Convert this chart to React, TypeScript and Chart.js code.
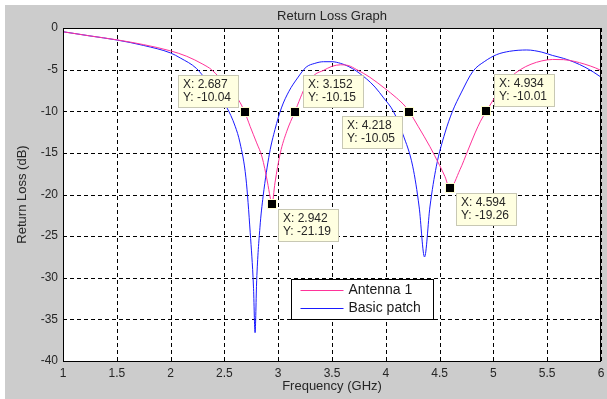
import React, { useEffect, useRef } from 'react';
import { Chart, registerables } from 'chart.js';

Chart.register(...registerables);

// ---- data ----
const antennaFreq = [1.0, 1.25, 1.5, 1.75, 2.0, 2.15, 2.3, 2.38, 2.45, 2.55, 2.63, 2.687, 2.74, 2.8, 2.85, 2.9, 2.925, 2.942, 2.97, 3.02, 3.08, 3.152, 3.26, 3.34, 3.42, 3.5, 3.58, 3.65, 3.73, 3.85, 3.99, 4.1, 4.18, 4.218, 4.3, 4.41, 4.5, 4.55, 4.594, 4.69, 4.76, 4.83, 4.88, 4.934, 5.0, 5.08, 5.16, 5.25, 5.35, 5.45, 5.55, 5.65, 5.75, 5.85, 5.95, 6.0];
const antennaLoss = [-0.45, -0.95, -1.42, -2.0, -2.75, -3.4, -4.35, -5.0, -5.9, -7.3, -8.6, -10.04, -11.85, -13.8, -15.5, -18.5, -20.3, -21.19, -18.6, -15.0, -12.4, -10.15, -6.85, -5.6, -5.1, -4.6, -4.42, -4.5, -5.0, -5.9, -7.25, -8.4, -9.4, -10.05, -11.8, -14.25, -16.5, -17.85, -19.26, -17.0, -14.8, -12.6, -11.2, -10.01, -8.6, -7.0, -5.9, -5.0, -4.35, -3.95, -3.78, -3.8, -4.0, -4.35, -4.8, -5.1];

const patchFreq = [1.0, 1.25, 1.5, 1.75, 2.0, 2.09, 2.24, 2.34, 2.43, 2.52, 2.6, 2.645, 2.7, 2.74, 2.77, 2.785, 2.8, 2.83, 2.86, 2.92, 2.97, 3.03, 3.1, 3.18, 3.26, 3.34, 3.42, 3.5, 3.58, 3.65, 3.73, 3.82, 3.9, 3.98, 4.07, 4.16, 4.25, 4.31, 4.36, 4.41, 4.47, 4.55, 4.62, 4.7, 4.81, 4.92, 5.03, 5.15, 5.31, 5.45, 5.55, 5.65, 5.75, 5.85, 5.93, 6.0];
const patchLoss = [-0.45, -0.95, -1.44, -2.1, -3.0, -3.6, -4.85, -6.4, -7.9, -9.5, -11.8, -13.8, -18.0, -24.6, -31.0, -36.6, -30.3, -24.0, -20.2, -15.0, -12.2, -9.6, -7.6, -6.0, -4.7, -4.25, -4.05, -4.05, -4.25, -4.6, -5.2, -6.1, -7.1, -8.4, -10.0, -12.8, -16.6, -21.5, -27.5, -21.5, -16.6, -12.6, -10.0, -7.8, -5.2, -4.0, -3.2, -2.8, -2.64, -2.9, -3.3, -3.64, -4.1, -4.7, -5.3, -5.9];

const seriesNames = ['Antenna 1', 'Basic patch'];

const tipFreq = [2.687, 3.152, 4.218, 4.934, 2.942, 4.594];
const tipLoss = [-10.04, -10.15, -10.05, -10.01, -21.19, -19.26];
const tipPlacement = ['tl', 'tr', 'bl', 'tr', 'br', 'br'];

const xTicks = [1, 1.5, 2, 2.5, 3, 3.5, 4, 4.5, 5, 5.5, 6];
const xTickLabels = ['1', '1.5', '2', '2.5', '3', '3.5', '4', '4.5', '5', '5.5', '6'];
const yTicks = [-40, -35, -30, -25, -20, -15, -10, -5, 0];
const yTickLabels = ['-40', '-35', '-30', '-25', '-20', '-15', '-10', '-5', '0'];

const titleText = 'Return Loss Graph';
const xTitle = 'Frequency (GHz)';
const yTitle = 'Return Loss (dB)';

const PINK = '#ff3399';
const BLUE = '#1a1aff';
const FONT = '"Liberation Sans", Arial, sans-serif';

const decorPlugin = {
  id: 'decor',
  beforeDraw(chart: any) {
    const { ctx, width, height, chartArea: ca } = chart;
    ctx.save();
    ctx.fillStyle = '#ffffff';
    ctx.fillRect(0, 0, width, height);
    ctx.fillStyle = '#cccccc';
    ctx.fillRect(5, 5, width - 5, height - 5);
    ctx.fillStyle = '#ffffff';
    ctx.fillRect(ca.left, ca.top, ca.right - ca.left, ca.bottom - ca.top);
    ctx.restore();
  },
  beforeDatasetsDraw(chart: any) {
    const { ctx, chartArea: ca, scales } = chart;
    ctx.save();
    ctx.strokeStyle = '#000000';
    ctx.lineWidth = 1;
    ctx.setLineDash([4, 3]);
    xTicks.forEach((v) => {
      const x = Math.round(scales.x.getPixelForValue(v)) + 0.5;
      ctx.beginPath();
      ctx.moveTo(x, ca.top);
      ctx.lineTo(x, ca.bottom);
      ctx.stroke();
    });
    yTicks.forEach((v) => {
      const y = Math.round(scales.y.getPixelForValue(v)) + 0.5;
      ctx.beginPath();
      ctx.moveTo(ca.left, y);
      ctx.lineTo(ca.right, y);
      ctx.stroke();
    });
    ctx.restore();
  },
  afterDatasetsDraw(chart: any) {
    const { ctx, chartArea: ca, scales } = chart;
    ctx.save();
    // frame
    ctx.strokeStyle = '#000000';
    ctx.lineWidth = 1;
    ctx.setLineDash([]);
    ctx.strokeRect(Math.round(ca.left) + 0.5, Math.round(ca.top) + 0.5, Math.round(ca.right - ca.left) - 1, Math.round(ca.bottom - ca.top));

    // titles
    ctx.fillStyle = '#262626';
    ctx.textAlign = 'center';
    ctx.textBaseline = 'middle';
    ctx.font = `13px ${FONT}`;
    ctx.fillText(titleText, (ca.left + ca.right) / 2, 16);
    ctx.fillText(xTitle, (ca.left + ca.right) / 2, 386);
    ctx.save();
    ctx.translate(22, (ca.top + ca.bottom) / 2);
    ctx.rotate(-Math.PI / 2);
    ctx.fillText(yTitle, 0, 0);
    ctx.restore();

    // data tips
    ctx.font = `12px ${FONT}`;
    tipFreq.forEach((fx, i) => {
      const px = scales.x.getPixelForValue(fx);
      const py = scales.y.getPixelForValue(tipLoss[i]);
      const l1 = `X: ${fx}`;
      const l2 = `Y: ${tipLoss[i]}`;
      const tw = Math.max(ctx.measureText(l1).width, ctx.measureText(l2).width);
      const bw = Math.round(tw + 13);
      const bh = 33;
      const pl = tipPlacement[i];
      let bx = 0;
      let by = 0;
      if (pl === 'tl') { bx = px - 6 - bw; by = py - 4 - bh; }
      if (pl === 'tr') { bx = px + 8; by = py - 4 - bh; }
      if (pl === 'bl') { bx = px - 6 - bw; by = py + 4; }
      if (pl === 'br') { bx = px + 6; by = py + 5; }
      bx = Math.round(bx);
      by = Math.round(by);
      ctx.fillStyle = '#ffffe1';
      ctx.fillRect(bx, by, bw, bh);
      ctx.strokeStyle = '#c8c8b4';
      ctx.strokeRect(bx + 0.5, by + 0.5, bw - 1, bh - 1);
      ctx.fillStyle = '#262626';
      ctx.textAlign = 'left';
      ctx.textBaseline = 'middle';
      ctx.fillText(l1, bx + 5, by + 10);
      ctx.fillText(l2, bx + 5, by + 23);
      // marker
      ctx.fillStyle = '#ffffd0';
      ctx.fillRect(Math.round(px) - 5, Math.round(py) - 5, 10, 10);
      ctx.fillStyle = '#000000';
      ctx.fillRect(Math.round(px) - 4, Math.round(py) - 4, 8, 8);
    });

    // legend
    const lx = Math.round(ca.left + 228) + 0.5;
    const ly = Math.round(ca.top + 251) + 0.5;
    ctx.fillStyle = '#ffffff';
    ctx.fillRect(lx, ly, 142, 40);
    ctx.strokeStyle = '#000000';
    ctx.strokeRect(lx, ly, 142, 40);
    const colors = [PINK, BLUE];
    ctx.font = `14px ${FONT}`;
    seriesNames.forEach((name, i) => {
      const yy = ly + 11 + i * 18;
      ctx.strokeStyle = colors[i];
      ctx.lineWidth = 1;
      ctx.beginPath();
      ctx.moveTo(lx + 9, yy);
      ctx.lineTo(lx + 52, yy);
      ctx.stroke();
      ctx.fillStyle = '#1a1a1a';
      ctx.textAlign = 'left';
      ctx.textBaseline = 'middle';
      ctx.fillText(name, lx + 57, yy);
    });
    ctx.restore();
  },
};

export default function App() {
  const ref = useRef<HTMLCanvasElement>(null);
  useEffect(() => {
    document.body.style.margin = '0';
    const canvas = ref.current;
    if (!canvas) return;
    const chart = new Chart(canvas, {
      type: 'line',
      data: {
        datasets: [
          {
            label: seriesNames[0],
            data: antennaFreq.map((x, i) => ({ x, y: antennaLoss[i] })),
            borderColor: PINK,
            borderWidth: 1,
            pointRadius: 0,
            fill: false,
            cubicInterpolationMode: 'monotone',
          },
          {
            label: seriesNames[1],
            data: patchFreq.map((x, i) => ({ x, y: patchLoss[i] })),
            borderColor: BLUE,
            borderWidth: 1,
            pointRadius: 0,
            fill: false,
            cubicInterpolationMode: 'monotone',
          },
        ],
      },
      options: {
        responsive: false,
        animation: false,
        devicePixelRatio: 1,
        layout: { padding: { top: 28, right: 6, left: 0, bottom: 0 } },
        plugins: {
          legend: { display: false },
          tooltip: { enabled: false },
          title: { display: false },
        },
        events: [],
        scales: {
          x: {
            type: 'linear',
            min: 1,
            max: 6,
            afterBuildTicks: (s: any) => { s.ticks = xTicks.map((v) => ({ value: v })); },
            afterFit: (s: any) => { s.height = 38; s.paddingLeft = 0; s.paddingRight = 0; },
            grid: { display: false, drawTicks: false },
            border: { display: false },
            ticks: {
              autoSkip: false,
              maxRotation: 0,
              padding: 5,
              color: '#262626',
              font: { family: FONT, size: 12 },
              callback: (_v: any, i: number) => xTickLabels[i],
            },
          },
          y: {
            type: 'linear',
            min: -40,
            max: 0,
            afterBuildTicks: (s: any) => { s.ticks = yTicks.map((v) => ({ value: v })); },
            afterFit: (s: any) => { s.width = 63; s.paddingTop = 0; s.paddingBottom = 0; },
            grid: { display: false, drawTicks: false },
            border: { display: false },
            ticks: {
              autoSkip: false,
              padding: 5,
              color: '#262626',
              font: { family: FONT, size: 12 },
              callback: (_v: any, i: number) => yTickLabels[i],
            },
          },
        },
      } as any,
      plugins: [decorPlugin],
    });
    return () => chart.destroy();
  }, []);
  return <canvas ref={ref} width={607} height={399} style={{ display: 'block' }} />;
}
